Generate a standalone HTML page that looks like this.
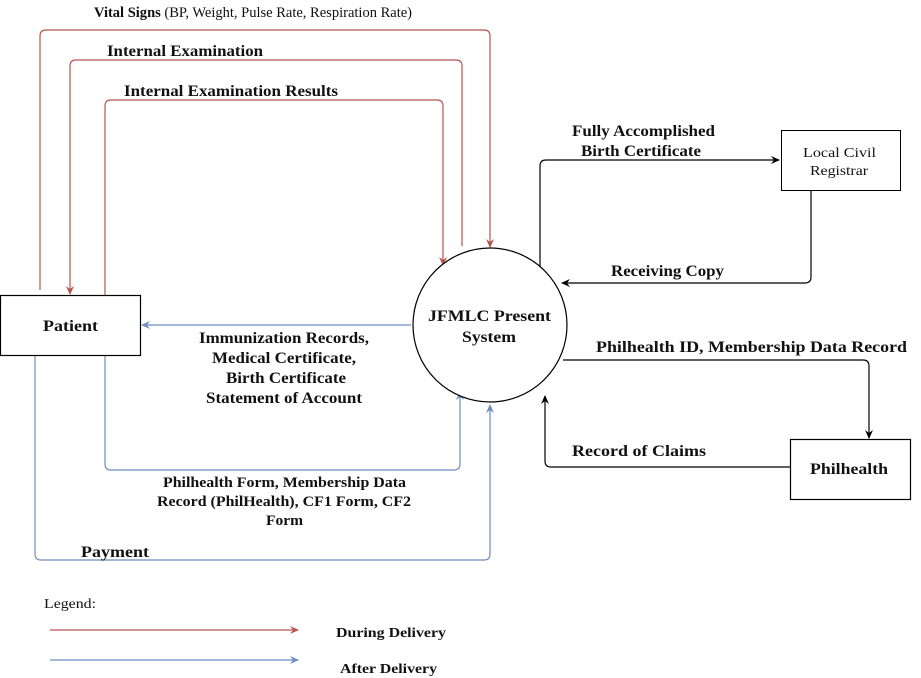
<!DOCTYPE html>
<html><head><style>body{margin:0;background:#fff}svg{display:block}text{font-family:"Liberation Serif",serif;font-size:16px;font-weight:bold;fill:#111}</style></head><body>
<svg width="921" height="678" viewBox="0 0 921 678" xmlns="http://www.w3.org/2000/svg">
<defs>
<marker id="r" markerWidth="10" markerHeight="10" refX="8" refY="5" orient="auto" markerUnits="userSpaceOnUse"><path d="M0,1 L9,5 L0,9 L3,5z" fill="#b85450"/></marker>
<marker id="b" markerWidth="10" markerHeight="10" refX="8" refY="5" orient="auto" markerUnits="userSpaceOnUse"><path d="M0,1 L9,5 L0,9 L3,5z" fill="#6c8ebf"/></marker>
<marker id="k" markerWidth="10" markerHeight="10" refX="8" refY="5" orient="auto" markerUnits="userSpaceOnUse"><path d="M0,1 L9,5 L0,9 L3,5z" fill="#000"/></marker>
</defs>
<g fill="none" stroke-width="1.2">
<path d="M40,290 V36 Q40,30 46,30 H484 Q490,30 490,36 V247" stroke="#b85450" marker-end="url(#r)"/>
<path d="M462,246 V66 Q462,60 456,60 H76 Q70,60 70,66 V294" stroke="#b85450" marker-end="url(#r)"/>
<path d="M105,295 V106 Q105,100 111,100 H437 Q443,100 443,106 V265" stroke="#b85450" marker-end="url(#r)"/>
<path d="M411,325 H142" stroke="#6c8ebf" marker-end="url(#b)"/>
<path d="M105,356 V464 Q105,470 111,470 H454 Q460,470 460,464 V392" stroke="#6c8ebf" marker-end="url(#b)"/>
<path d="M35,356 V554 Q35,560 41,560 H484 Q490,560 490,554 V405" stroke="#6c8ebf" marker-end="url(#b)"/>
<path d="M540,270 V166 Q540,160 546,160 H779" stroke="#000" marker-end="url(#k)"/>
<path d="M811,190 V277 Q811,283 805,283 H562" stroke="#000" marker-end="url(#k)"/>
<path d="M563,360 H863 Q869,360 869,366 V438" stroke="#000" marker-end="url(#k)"/>
<path d="M790,467 H551 Q545,467 545,461 V396" stroke="#000" marker-end="url(#k)"/>
<path d="M50,630 H298" stroke="#b85450" marker-end="url(#r)"/>
<path d="M50,660 H298" stroke="#6c8ebf" marker-end="url(#b)"/>
</g>
<rect x="0.5" y="295.5" width="140" height="60" fill="#fff" stroke="#000" stroke-width="1.2"/>
<rect x="781.5" y="130.5" width="119" height="60" fill="#fff" stroke="#000"/>
<rect x="790.5" y="439.5" width="120" height="60" fill="#fff" stroke="#000" stroke-width="1.2"/>
<circle cx="490" cy="325" r="77" fill="#fff" stroke="#000" stroke-width="1.2"/>
<text x="43" y="331" textLength="55" lengthAdjust="spacingAndGlyphs">Patient</text>
<text x="428" y="321" textLength="123" lengthAdjust="spacingAndGlyphs">JFMLC Present</text>
<text x="462" y="342" textLength="54" lengthAdjust="spacingAndGlyphs">System</text>
<text x="803" y="157" textLength="73" lengthAdjust="spacingAndGlyphs" style="font-weight:normal;font-size:14px">Local Civil</text>
<text x="810" y="175" textLength="58" lengthAdjust="spacingAndGlyphs" style="font-weight:normal;font-size:14px">Registrar</text>
<text x="810" y="474" textLength="78" lengthAdjust="spacingAndGlyphs">Philhealth</text>
<text x="94" y="17" textLength="318" lengthAdjust="spacingAndGlyphs" style="font-size:15px">Vital Signs <tspan style="font-weight:normal">(BP, Weight, Pulse Rate, Respiration Rate)</tspan></text>
<text x="107" y="56" textLength="156" lengthAdjust="spacingAndGlyphs">Internal Examination</text>
<text x="124" y="96" textLength="214" lengthAdjust="spacingAndGlyphs">Internal Examination Results</text>
<text x="199" y="343" textLength="170" lengthAdjust="spacingAndGlyphs">Immunization Records,</text>
<text x="212" y="363" textLength="144" lengthAdjust="spacingAndGlyphs">Medical Certificate,</text>
<text x="226" y="383" textLength="120" lengthAdjust="spacingAndGlyphs">Birth Certificate</text>
<text x="206" y="403" textLength="156" lengthAdjust="spacingAndGlyphs">Statement of Account</text>
<text x="163" y="487" textLength="243" lengthAdjust="spacingAndGlyphs" style="font-size:15px">Philhealth Form, Membership Data</text>
<text x="157" y="506" textLength="254" lengthAdjust="spacingAndGlyphs" style="font-size:15px">Record (PhilHealth), CF1 Form, CF2</text>
<text x="266" y="525" textLength="37" lengthAdjust="spacingAndGlyphs" style="font-size:15px">Form</text>
<text x="572" y="136" textLength="143" lengthAdjust="spacingAndGlyphs">Fully Accomplished</text>
<text x="581" y="156" textLength="120" lengthAdjust="spacingAndGlyphs">Birth Certificate</text>
<text x="81" y="557" textLength="68" lengthAdjust="spacingAndGlyphs">Payment</text>
<text x="611" y="276" textLength="113" lengthAdjust="spacingAndGlyphs">Receiving Copy</text>
<text x="596" y="352" textLength="311" lengthAdjust="spacingAndGlyphs">Philhealth ID, Membership Data Record</text>
<text x="572" y="456" textLength="134" lengthAdjust="spacingAndGlyphs">Record of Claims</text>
<text x="44" y="608" textLength="52" lengthAdjust="spacingAndGlyphs" style="font-weight:normal;font-size:14px">Legend:</text>
<text x="336" y="637" textLength="110" lengthAdjust="spacingAndGlyphs" style="font-size:14px">During Delivery</text>
<text x="340" y="673" textLength="97" lengthAdjust="spacingAndGlyphs" style="font-size:14px">After Delivery</text>
</svg>
</body></html>
